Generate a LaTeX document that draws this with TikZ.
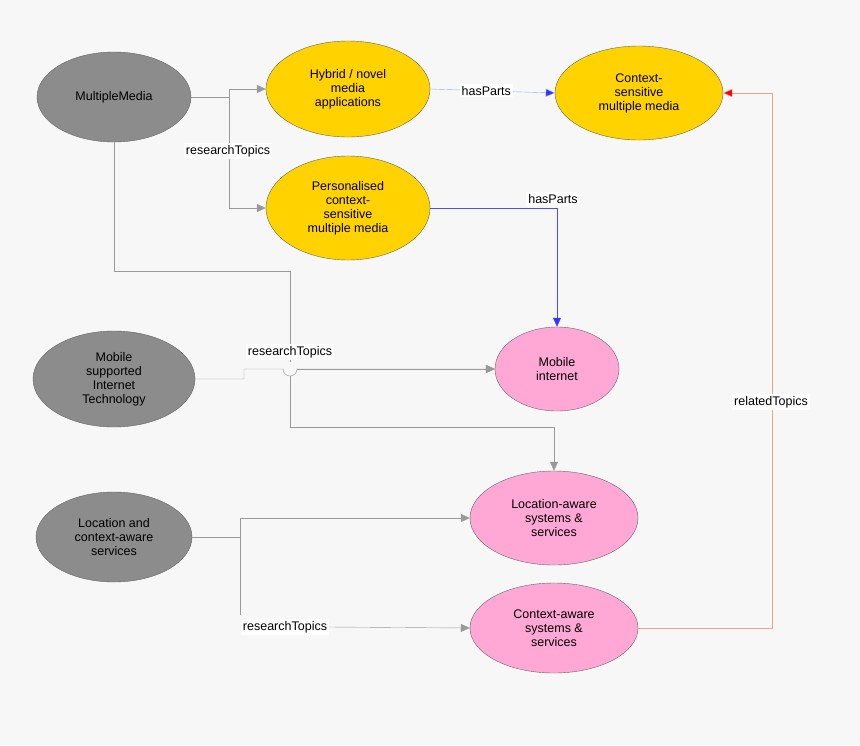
\documentclass[tikz,border=0pt]{standalone}
\usepackage{fontspec}
\setmainfont{Liberation Sans}
\usetikzlibrary{arrows.meta,shapes.geometric}
\definecolor{bgcol}{HTML}{F7F7F7}
\definecolor{goldcol}{HTML}{FFD200}
\definecolor{pinkcol}{HTML}{FFA8D6}
\definecolor{graycol}{HTML}{8C8C8C}
\definecolor{linecol}{HTML}{999999}
\definecolor{bluecol}{HTML}{99AAFF}
\definecolor{redcol}{HTML}{F0A090}
\begin{document}
\begin{tikzpicture}[x=1pt,y=-1pt,>={Triangle[length=9pt,width=8pt]},
                    font=\fontsize{12.5}{14}\selectfont]
  \tikzset{topic/.style={ellipse,draw=black!60,thin,align=center,inner sep=0pt},
           area/.style={topic,fill=graycol},
           media/.style={topic,fill=goldcol},
           mobile/.style={topic,fill=pinkcol},
           rel/.style={draw=linecol,thin},
           parts/.style={draw=bluecol,thin},
           lbl/.style={fill=white,inner sep=2pt}}
  \fill[bgcol] (0,0) rectangle (860,745);
  \useasboundingbox (0,0) rectangle (860,745);

  \node[area,minimum width=154,minimum height=90]  (MM)  at (114,97)  {MultipleMedia};
  \node[media,minimum width=164,minimum height=96] (HY)  at (348,89)  {Hybrid / novel\\media\\applications};
  \node[media,minimum width=168,minimum height=94] (CS)  at (639,93)  {Context-\\sensitive\\multiple media};
  \node[media,minimum width=164,minimum height=104] (PC) at (348,208) {Personalised\\context-\\sensitive\\multiple media};
  \node[area,minimum width=162,minimum height=96]  (MS)  at (114,379) {Mobile\\supported\\Internet\\Technology};
  \node[mobile,minimum width=124,minimum height=84] (MI) at (557,369) {Mobile\\internet};
  \node[area,minimum width=156,minimum height=90]  (LS)  at (114,537) {Location and\\context-aware\\services};
  \node[mobile,minimum width=168,minimum height=94] (LA) at (554,518) {Location-aware\\systems \&\\services};
  \node[mobile,minimum width=168,minimum height=90] (CA) at (554,628) {Context-aware\\systems \&\\services};

  % MultipleMedia
  \coordinate (mm1) at (229,97);
  \draw[rel] (MM.east) -- (mm1);
  \draw[rel,->] (mm1) |- (HY.west);
  \draw[rel,->] (mm1) |- (PC.west);
  \node[lbl] (rt1) at (228,151) {researchTopics};
  \draw[rel,->] (MM.south) -- (114,271) -- (290,271) -- (290,362)
        arc[start angle=0,end angle=0,radius=0] (290,376) -- (290,427) -| (LA.north);
  % Mobile supported
  \draw[rel] (MS.east) -- (244,379) -- (244,369) -- (283,369)
        arc[start angle=180,end angle=0,radius=7] -- (MI.west) [->];
  \draw[rel,->] (297,369) -- (MI.west);
  \node[lbl] (rt2) at (290,352) {researchTopics};
  % Location services
  \coordinate (ls1) at (240,537);
  \draw[rel] (LS.east) -- (ls1);
  \draw[rel,->] (ls1) |- (LA.west);
  \node[lbl] (rt3) at (285,627) {researchTopics};
  \draw[rel] (ls1) -- (240,615);
  \draw[rel,->] (rt3.east) -- (CA.west);
  % hasParts
  \draw[parts,-{Triangle[length=9pt,width=8pt,fill=blue!80]}] (HY.east) -- (CS.west)
        node[lbl,pos=0.45,text=black] (hp1) {hasParts};
  \draw[parts,-{Triangle[length=9pt,width=8pt,fill=blue!80]},blue!70] (PC.east) -| (MI.north);
  \node[lbl] (hp2) at (553,199) {hasParts};
  % relatedTopics
  \draw[redcol,thin,-{Triangle[length=9pt,width=8pt,fill=red]}] (CA.east) -- (772,628) |- (CS.east);
  \node[lbl] (rel1) at (771,402) {relatedTopics};
\end{tikzpicture}
\end{document}
